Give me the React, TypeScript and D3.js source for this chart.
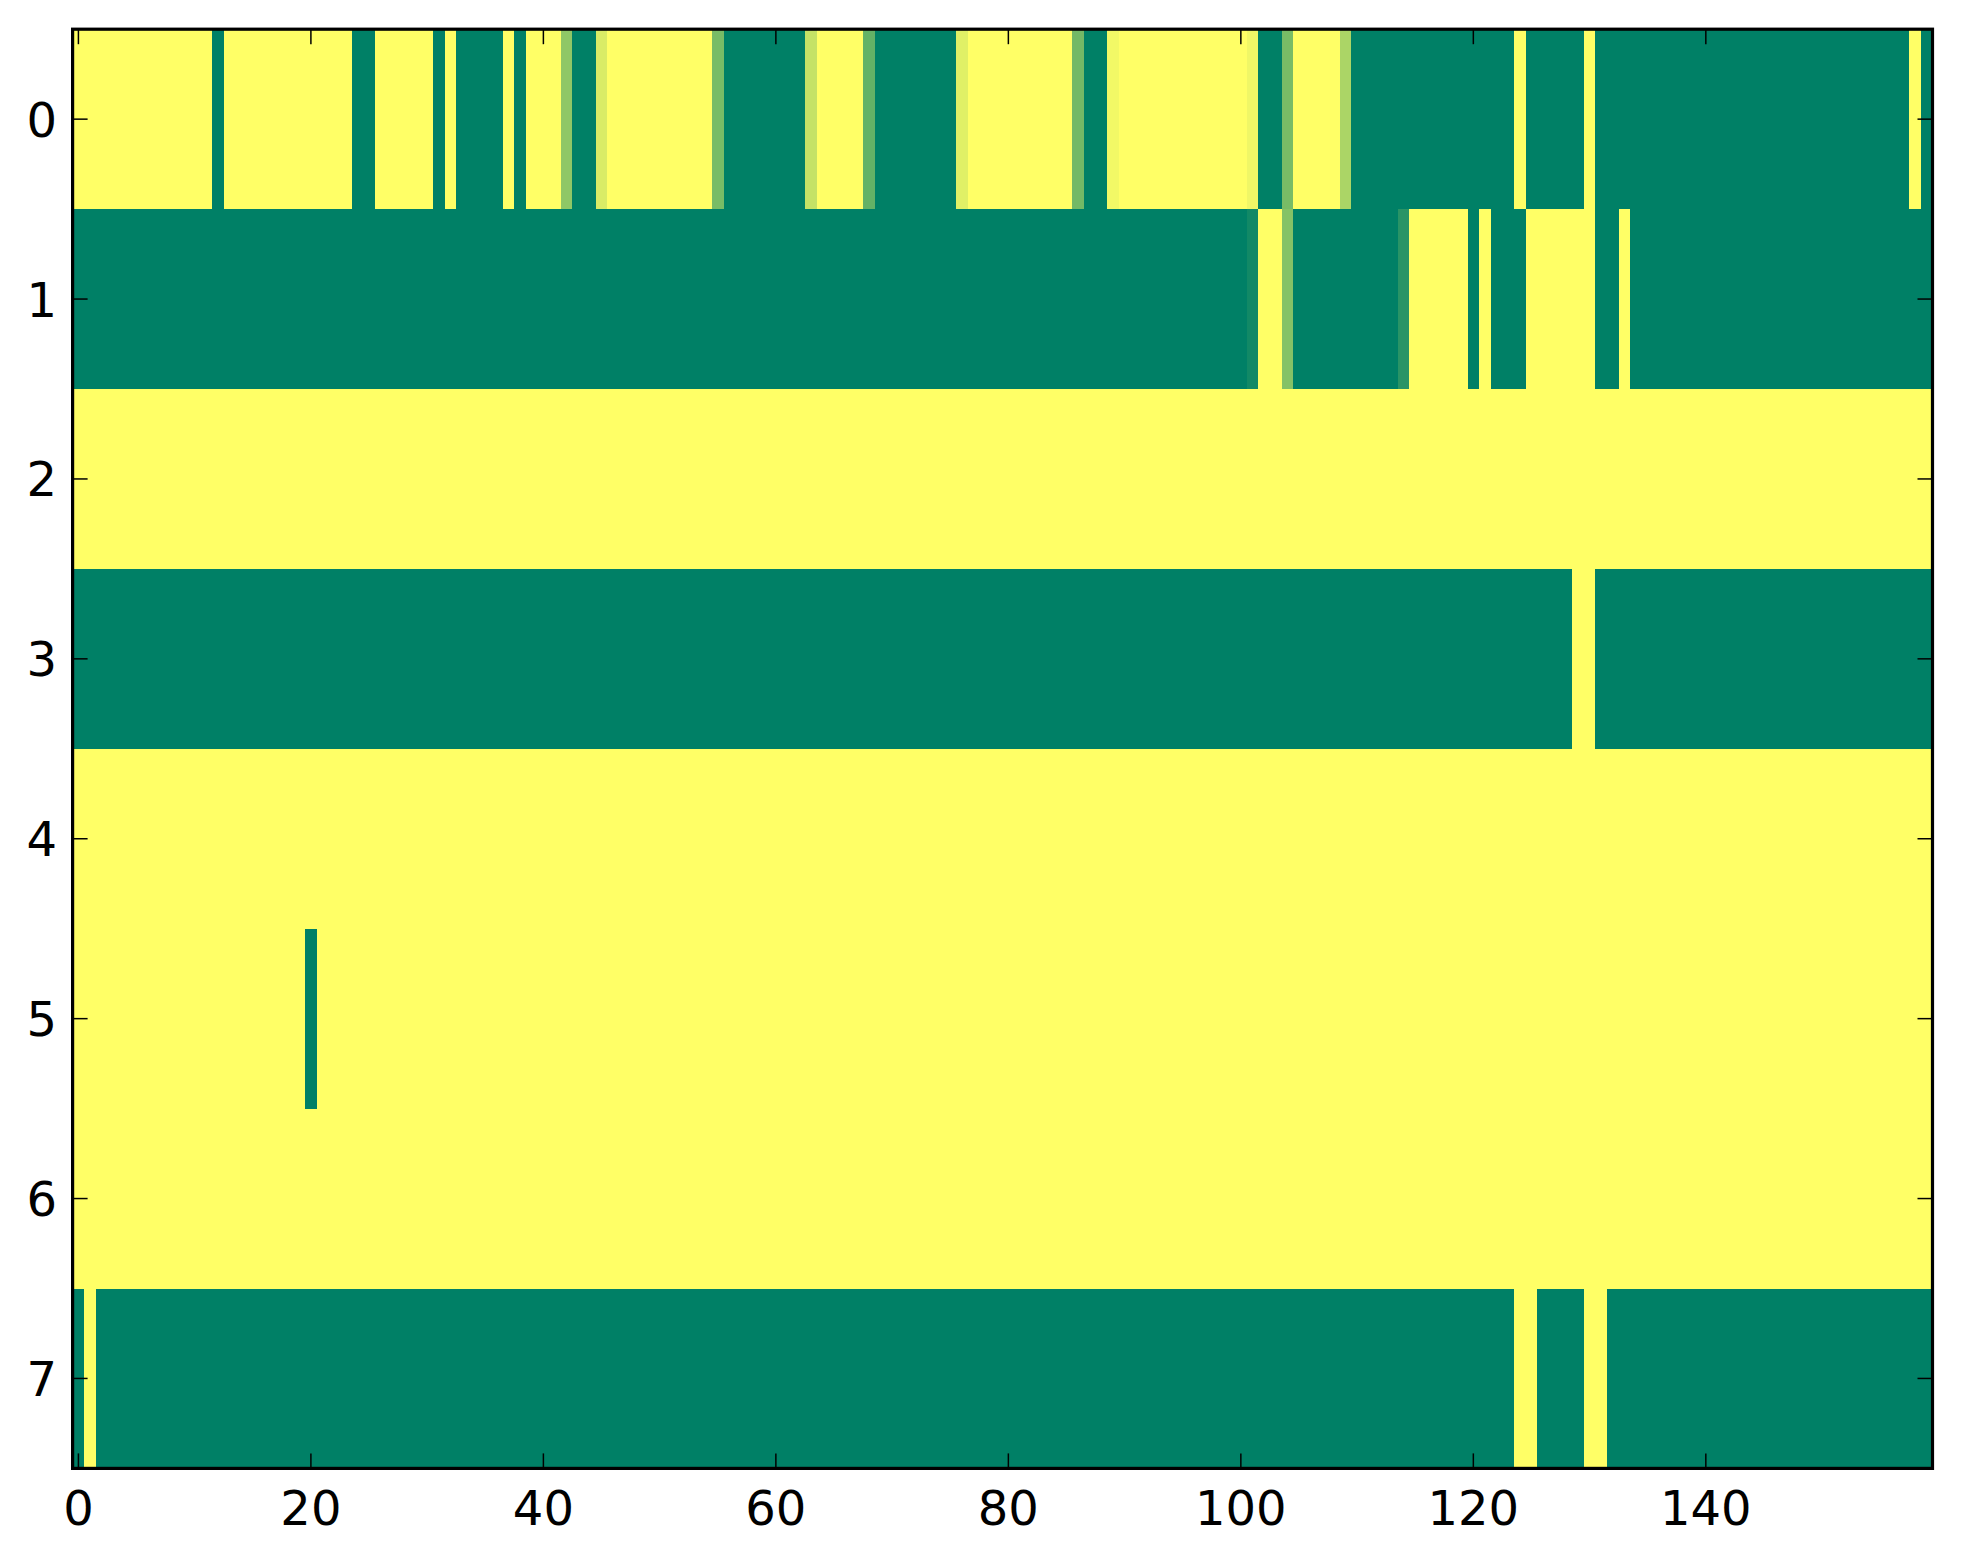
import { useEffect, useRef } from "react";
import * as d3 from "d3";

// ── Data: one array per image row, 160 columns each, values in [0, 1] ─────────
const row0 = [
  1, 1, 1, 1, 1, 1, 1, 1, 1, 1, 1, 1, 0, 1, 1, 1, 1, 1, 1, 1,
  1, 1, 1, 1, 0, 0, 1, 1, 1, 1, 1, 0, 1, 0, 0, 0, 0, 1, 0, 1,
  1, 1, 0.56, 0, 0, 0.85, 1, 1, 1, 1, 1, 1, 1, 1, 1, 0.47, 0, 0, 0, 0,
  0, 0, 0, 0.77, 1, 1, 1, 1, 0.39, 0, 0, 0, 0, 0, 0, 0, 0.88, 1, 1, 1,
  1, 1, 1, 1, 1, 1, 0.45, 0, 0, 0.95, 1, 1, 1, 1, 1, 1, 1, 1, 1, 1,
  1, 0.94, 0, 0, 0.47, 1, 1, 1, 1, 0.67, 0, 0, 0, 0, 0, 0, 0, 0, 0, 0,
  0, 0, 0, 0, 1, 0, 0, 0, 0, 0, 1, 0, 0, 0, 0, 0, 0, 0, 0, 0,
  0, 0, 0, 0, 0, 0, 0, 0, 0, 0, 0, 0, 0, 0, 0, 0, 0, 0, 1, 0,
];
const row1 = [
  0, 0, 0, 0, 0, 0, 0, 0, 0, 0, 0, 0, 0, 0, 0, 0, 0, 0, 0, 0,
  0, 0, 0, 0, 0, 0, 0, 0, 0, 0, 0, 0, 0, 0, 0, 0, 0, 0, 0, 0,
  0, 0, 0, 0, 0, 0, 0, 0, 0, 0, 0, 0, 0, 0, 0, 0, 0, 0, 0, 0,
  0, 0, 0, 0, 0, 0, 0, 0, 0, 0, 0, 0, 0, 0, 0, 0, 0, 0, 0, 0,
  0, 0, 0, 0, 0, 0, 0, 0, 0, 0, 0, 0, 0, 0, 0, 0, 0, 0, 0, 0,
  0, 0.07, 1, 1, 0.52, 0, 0, 0, 0, 0, 0, 0, 0, 0, 0.16, 1, 1, 1, 1, 1,
  0, 1, 0, 0, 0, 1, 1, 1, 1, 1, 1, 0, 0, 1, 0, 0, 0, 0, 0, 0,
  0, 0, 0, 0, 0, 0, 0, 0, 0, 0, 0, 0, 0, 0, 0, 0, 0, 0, 0, 0,
];
const row2 = [
  1, 1, 1, 1, 1, 1, 1, 1, 1, 1, 1, 1, 1, 1, 1, 1, 1, 1, 1, 1,
  1, 1, 1, 1, 1, 1, 1, 1, 1, 1, 1, 1, 1, 1, 1, 1, 1, 1, 1, 1,
  1, 1, 1, 1, 1, 1, 1, 1, 1, 1, 1, 1, 1, 1, 1, 1, 1, 1, 1, 1,
  1, 1, 1, 1, 1, 1, 1, 1, 1, 1, 1, 1, 1, 1, 1, 1, 1, 1, 1, 1,
  1, 1, 1, 1, 1, 1, 1, 1, 1, 1, 1, 1, 1, 1, 1, 1, 1, 1, 1, 1,
  1, 1, 1, 1, 1, 1, 1, 1, 1, 1, 1, 1, 1, 1, 1, 1, 1, 1, 1, 1,
  1, 1, 1, 1, 1, 1, 1, 1, 1, 1, 1, 1, 1, 1, 1, 1, 1, 1, 1, 1,
  1, 1, 1, 1, 1, 1, 1, 1, 1, 1, 1, 1, 1, 1, 1, 1, 1, 1, 1, 1,
];
const row3 = [
  0, 0, 0, 0, 0, 0, 0, 0, 0, 0, 0, 0, 0, 0, 0, 0, 0, 0, 0, 0,
  0, 0, 0, 0, 0, 0, 0, 0, 0, 0, 0, 0, 0, 0, 0, 0, 0, 0, 0, 0,
  0, 0, 0, 0, 0, 0, 0, 0, 0, 0, 0, 0, 0, 0, 0, 0, 0, 0, 0, 0,
  0, 0, 0, 0, 0, 0, 0, 0, 0, 0, 0, 0, 0, 0, 0, 0, 0, 0, 0, 0,
  0, 0, 0, 0, 0, 0, 0, 0, 0, 0, 0, 0, 0, 0, 0, 0, 0, 0, 0, 0,
  0, 0, 0, 0, 0, 0, 0, 0, 0, 0, 0, 0, 0, 0, 0, 0, 0, 0, 0, 0,
  0, 0, 0, 0, 0, 0, 0, 0, 0, 1, 1, 0, 0, 0, 0, 0, 0, 0, 0, 0,
  0, 0, 0, 0, 0, 0, 0, 0, 0, 0, 0, 0, 0, 0, 0, 0, 0, 0, 0, 0,
];
const row4 = [
  1, 1, 1, 1, 1, 1, 1, 1, 1, 1, 1, 1, 1, 1, 1, 1, 1, 1, 1, 1,
  1, 1, 1, 1, 1, 1, 1, 1, 1, 1, 1, 1, 1, 1, 1, 1, 1, 1, 1, 1,
  1, 1, 1, 1, 1, 1, 1, 1, 1, 1, 1, 1, 1, 1, 1, 1, 1, 1, 1, 1,
  1, 1, 1, 1, 1, 1, 1, 1, 1, 1, 1, 1, 1, 1, 1, 1, 1, 1, 1, 1,
  1, 1, 1, 1, 1, 1, 1, 1, 1, 1, 1, 1, 1, 1, 1, 1, 1, 1, 1, 1,
  1, 1, 1, 1, 1, 1, 1, 1, 1, 1, 1, 1, 1, 1, 1, 1, 1, 1, 1, 1,
  1, 1, 1, 1, 1, 1, 1, 1, 1, 1, 1, 1, 1, 1, 1, 1, 1, 1, 1, 1,
  1, 1, 1, 1, 1, 1, 1, 1, 1, 1, 1, 1, 1, 1, 1, 1, 1, 1, 1, 1,
];
const row5 = [
  1, 1, 1, 1, 1, 1, 1, 1, 1, 1, 1, 1, 1, 1, 1, 1, 1, 1, 1, 1,
  0, 1, 1, 1, 1, 1, 1, 1, 1, 1, 1, 1, 1, 1, 1, 1, 1, 1, 1, 1,
  1, 1, 1, 1, 1, 1, 1, 1, 1, 1, 1, 1, 1, 1, 1, 1, 1, 1, 1, 1,
  1, 1, 1, 1, 1, 1, 1, 1, 1, 1, 1, 1, 1, 1, 1, 1, 1, 1, 1, 1,
  1, 1, 1, 1, 1, 1, 1, 1, 1, 1, 1, 1, 1, 1, 1, 1, 1, 1, 1, 1,
  1, 1, 1, 1, 1, 1, 1, 1, 1, 1, 1, 1, 1, 1, 1, 1, 1, 1, 1, 1,
  1, 1, 1, 1, 1, 1, 1, 1, 1, 1, 1, 1, 1, 1, 1, 1, 1, 1, 1, 1,
  1, 1, 1, 1, 1, 1, 1, 1, 1, 1, 1, 1, 1, 1, 1, 1, 1, 1, 1, 1,
];
const row6 = [
  1, 1, 1, 1, 1, 1, 1, 1, 1, 1, 1, 1, 1, 1, 1, 1, 1, 1, 1, 1,
  1, 1, 1, 1, 1, 1, 1, 1, 1, 1, 1, 1, 1, 1, 1, 1, 1, 1, 1, 1,
  1, 1, 1, 1, 1, 1, 1, 1, 1, 1, 1, 1, 1, 1, 1, 1, 1, 1, 1, 1,
  1, 1, 1, 1, 1, 1, 1, 1, 1, 1, 1, 1, 1, 1, 1, 1, 1, 1, 1, 1,
  1, 1, 1, 1, 1, 1, 1, 1, 1, 1, 1, 1, 1, 1, 1, 1, 1, 1, 1, 1,
  1, 1, 1, 1, 1, 1, 1, 1, 1, 1, 1, 1, 1, 1, 1, 1, 1, 1, 1, 1,
  1, 1, 1, 1, 1, 1, 1, 1, 1, 1, 1, 1, 1, 1, 1, 1, 1, 1, 1, 1,
  1, 1, 1, 1, 1, 1, 1, 1, 1, 1, 1, 1, 1, 1, 1, 1, 1, 1, 1, 1,
];
const row7 = [
  0, 1, 0, 0, 0, 0, 0, 0, 0, 0, 0, 0, 0, 0, 0, 0, 0, 0, 0, 0,
  0, 0, 0, 0, 0, 0, 0, 0, 0, 0, 0, 0, 0, 0, 0, 0, 0, 0, 0, 0,
  0, 0, 0, 0, 0, 0, 0, 0, 0, 0, 0, 0, 0, 0, 0, 0, 0, 0, 0, 0,
  0, 0, 0, 0, 0, 0, 0, 0, 0, 0, 0, 0, 0, 0, 0, 0, 0, 0, 0, 0,
  0, 0, 0, 0, 0, 0, 0, 0, 0, 0, 0, 0, 0, 0, 0, 0, 0, 0, 0, 0,
  0, 0, 0, 0, 0, 0, 0, 0, 0, 0, 0, 0, 0, 0, 0, 0, 0, 0, 0, 0,
  0, 0, 0, 0, 1, 1, 0, 0, 0, 0, 1, 1, 0, 0, 0, 0, 0, 0, 0, 0,
  0, 0, 0, 0, 0, 0, 0, 0, 0, 0, 0, 0, 0, 0, 0, 0, 0, 0, 0, 0,
];
const rows = [row0, row1, row2, row3, row4, row5, row6, row7];

const xTickValues = [0, 20, 40, 60, 80, 100, 120, 140];
const yTickValues = [0, 1, 2, 3, 4, 5, 6, 7];

// ── Component ──────────────────────────────────────────────────────────────────
export default function App() {
  const svgRef = useRef<SVGSVGElement>(null);

  useEffect(() => {
    if (!svgRef.current) return;

    const width = 1963;
    const height = 1564;
    const plot = { left: 72.6, right: 1932.5, top: 29.2, bottom: 1468.4 };
    const nCols = rows[0].length;
    const font = "'DejaVu Sans', sans-serif";
    const tickLen = 15;

    // matplotlib "summer": green -> yellow
    const color = d3
      .scaleLinear<string>()
      .domain([0, 1])
      .range(["#008066", "#ffff66"]);

    const x = d3
      .scaleLinear()
      .domain([-0.5, nCols - 0.5])
      .range([plot.left, plot.right]);
    const y = d3
      .scaleLinear()
      .domain([-0.5, rows.length - 0.5])
      .range([plot.top, plot.bottom]);

    const svg = d3.select(svgRef.current);
    svg.selectAll("*").remove();
    svg.append("rect").attr("width", width).attr("height", height).attr("fill", "#ffffff");

    // ── Cells ──────────────────────────────────────────────────────────────────
    type Cell = { r: number; c: number; v: number };
    const cells: Cell[] = rows.flatMap((row, r) => row.map((v, c) => ({ r, c, v })));

    svg
      .append("g")
      .attr("shape-rendering", "crispEdges")
      .selectAll("rect")
      .data(cells)
      .enter()
      .append("rect")
      .attr("x", (d) => x(d.c - 0.5))
      .attr("y", (d) => y(d.r - 0.5))
      .attr("width", (d) => x(d.c + 0.5) - x(d.c - 0.5) + 0.4)
      .attr("height", (d) => y(d.r + 0.5) - y(d.r - 0.5) + 0.4)
      .attr("fill", (d) => color(d.v));

    // ── Ticks (inward, all four sides) ───────────────────────────────────────
    const ticks = svg.append("g").attr("stroke", "#000").attr("stroke-width", 1.5);
    xTickValues.forEach((t) => {
      ticks.append("line").attr("x1", x(t)).attr("x2", x(t)).attr("y1", plot.bottom).attr("y2", plot.bottom - tickLen);
      ticks.append("line").attr("x1", x(t)).attr("x2", x(t)).attr("y1", plot.top).attr("y2", plot.top + tickLen);
    });
    yTickValues.forEach((t) => {
      ticks.append("line").attr("x1", plot.left).attr("x2", plot.left + tickLen).attr("y1", y(t)).attr("y2", y(t));
      ticks.append("line").attr("x1", plot.right).attr("x2", plot.right - tickLen).attr("y1", y(t)).attr("y2", y(t));
    });

    // ── Frame ─────────────────────────────────────────────────────────────────
    svg
      .append("rect")
      .attr("x", plot.left)
      .attr("y", plot.top)
      .attr("width", plot.right - plot.left)
      .attr("height", plot.bottom - plot.top)
      .attr("fill", "none")
      .attr("stroke", "#000")
      .attr("stroke-width", 3.2);

    // ── Tick labels ───────────────────────────────────────────────────────────
    svg
      .append("g")
      .selectAll("text")
      .data(xTickValues)
      .enter()
      .append("text")
      .attr("x", (d) => x(d))
      .attr("y", 1525)
      .attr("text-anchor", "middle")
      .attr("font-family", font)
      .attr("font-size", 48)
      .attr("fill", "#000")
      .text((d) => d);

    svg
      .append("g")
      .selectAll("text")
      .data(yTickValues)
      .enter()
      .append("text")
      .attr("x", 57)
      .attr("y", (d) => y(d) + 17.5)
      .attr("text-anchor", "end")
      .attr("font-family", font)
      .attr("font-size", 48)
      .attr("fill", "#000")
      .text((d) => d);
  }, []);

  return (
    <div style={{ position: "absolute", left: 0, top: 0 }}>
      <svg ref={svgRef} width={1963} height={1564} style={{ display: "block" }} />
    </div>
  );
}
